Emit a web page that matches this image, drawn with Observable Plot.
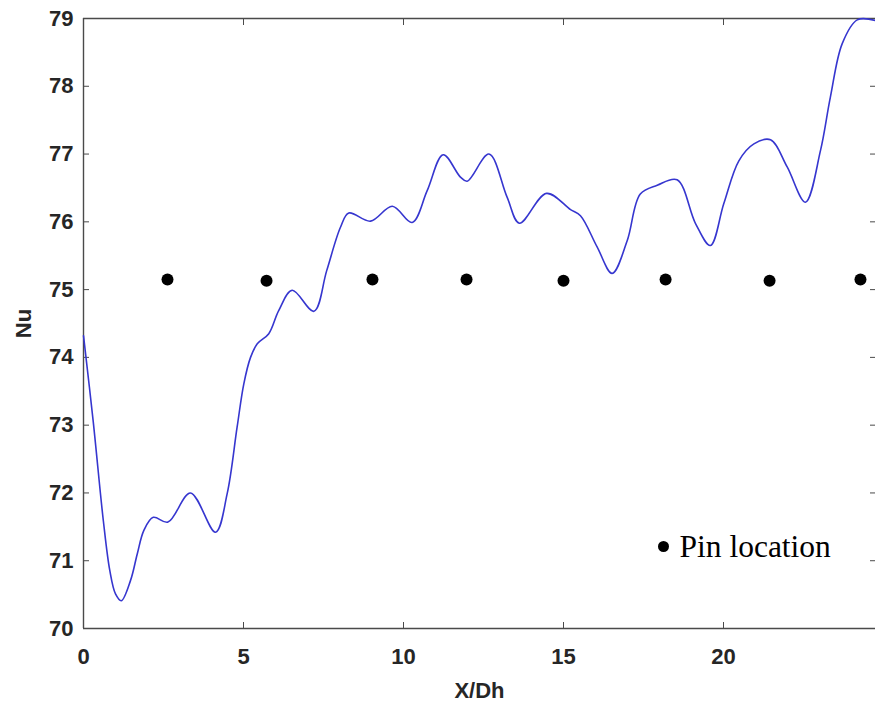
<!DOCTYPE html>
<html>
<head>
<meta charset="utf-8">
<script src="https://cdn.jsdelivr.net/npm/d3@7"></script>
<script src="https://cdn.jsdelivr.net/npm/@observablehq/plot@0.6"></script>
<style>
  html, body { margin: 0; padding: 0; background: #fff; }
  #chart svg { display: block; }
</style>
</head>
<body>
<div id="chart"></div>
<script>
// Nu along X/Dh (curve)
const curveX = [0, 0.30, 0.62, 0.82, 1.0, 1.18, 1.47, 1.68, 1.89, 2.18, 2.64, 3.34, 4.125, 4.49, 4.8, 5.01, 5.22, 5.43, 5.79, 6.1, 6.52, 7.2, 7.6, 8.03, 8.29, 8.97, 9.65, 10.27, 10.74, 11.24, 11.78, 11.99, 12.67, 13.24, 13.62, 14.47, 15.22, 15.53, 16.05, 16.52, 16.99, 17.4, 17.93, 18.55, 19.13, 19.59, 20.01, 20.48, 20.95, 21.47, 21.99, 22.56, 23.03, 23.34, 23.71, 24.18, 24.75];
const curveNu = [74.32, 73.07, 71.59, 70.86, 70.51, 70.41, 70.71, 71.1, 71.45, 71.64, 71.57, 72.0, 71.42, 71.99, 72.97, 73.61, 74.0, 74.2, 74.35, 74.69, 74.99, 74.68, 75.28, 75.92, 76.13, 76.01, 76.23, 75.99, 76.46, 76.99, 76.66, 76.6, 77.0, 76.36, 75.98, 76.42, 76.18, 76.09, 75.63, 75.24, 75.72, 76.41, 76.54, 76.62, 75.97, 75.65, 76.27, 76.9, 77.15, 77.21, 76.81, 76.29, 77.05, 77.84, 78.63, 78.98, 78.97];

// Pin locations
const pinX = [2.625, 5.72, 9.03, 11.97, 15.0, 18.19, 21.44, 24.28];
const pinNu = [75.15, 75.13, 75.15, 75.15, 75.13, 75.15, 75.13, 75.15];

const xTicks = [0, 5, 10, 15, 20];
const yTicks = [70, 71, 72, 73, 74, 75, 76, 77, 78, 79];
const xLabel = "X/Dh";
const yLabel = "Nu";
const legendLabel = "Pin location";

const curve = curveX.map((x, i) => ({x, y: curveNu[i]}));
const pins = pinX.map((x, i) => ({x, y: pinNu[i]}));

const axisColor = "#4a4a4a";
const labelColor = "#262626";
const sans = "'Liberation Sans', Arial, sans-serif";

const chart = Plot.plot({
  width: 875,
  height: 707,
  marginTop: 18,
  marginBottom: 79,
  marginLeft: 83,
  marginRight: 0,
  style: {fontFamily: sans, background: "#fff", overflow: "visible"},
  x: {domain: [0, 24.75]},
  y: {domain: [70, 79]},
  marks: [
    // frame lines
    Plot.ruleX([0], {stroke: axisColor, strokeWidth: 1.4}),
    Plot.ruleY([70], {stroke: axisColor, strokeWidth: 1.4}),
    Plot.ruleY([79], {stroke: axisColor, strokeWidth: 1.4}),
    // ticks (inward)
    Plot.axisX({ticks: xTicks, tickSize: -6, stroke: axisColor, text: null, label: null}),
    Plot.axisX({anchor: "top", ticks: xTicks, tickSize: -6, stroke: axisColor, text: null, label: null}),
    Plot.axisY({ticks: yTicks, tickSize: -6, stroke: axisColor, text: null, label: null}),
    Plot.axisY({anchor: "right", ticks: yTicks, tickSize: -6, stroke: axisColor, text: null, label: null}),
    // tick labels
    Plot.axisX({ticks: xTicks, tickSize: 0, tickPadding: 20, fontSize: 22, fontWeight: "bold", fill: labelColor, label: null}),
    Plot.axisY({ticks: yTicks, tickSize: 0, tickPadding: 10, fontSize: 22, fontWeight: "bold", fill: labelColor, label: null}),
    // axis titles
    Plot.text([xLabel], {frameAnchor: "bottom", dy: 62, lineAnchor: "middle", fontSize: 22, fontWeight: "bold", fill: labelColor}),
    Plot.text([yLabel], {frameAnchor: "left", dx: -60, rotate: -90, textAnchor: "middle", lineAnchor: "middle", fontSize: 22, fontWeight: "bold", fill: labelColor}),
    // data
    Plot.line(curve, {x: "x", y: "y", curve: "catmull-rom", stroke: "#3636cf", strokeWidth: 1.6}),
    Plot.dot(pins, {x: "x", y: "y", r: 6, fill: "#000", stroke: "none"}),
    // legend
    Plot.dot([legendLabel], {frameAnchor: "bottom-right", dx: 663 - 875, dy: 546 - 628, r: 5.5, fill: "#000", stroke: "none"}),
    Plot.text([legendLabel], {frameAnchor: "bottom-left", dx: 679 - 83, dy: 546 - 628, textAnchor: "start", lineAnchor: "middle", fontSize: 31.5, fontFamily: "'Liberation Serif', 'Times New Roman', serif", fill: "#000"})
  ]
});
document.getElementById("chart").appendChild(chart);
</script>
</body>
</html>
